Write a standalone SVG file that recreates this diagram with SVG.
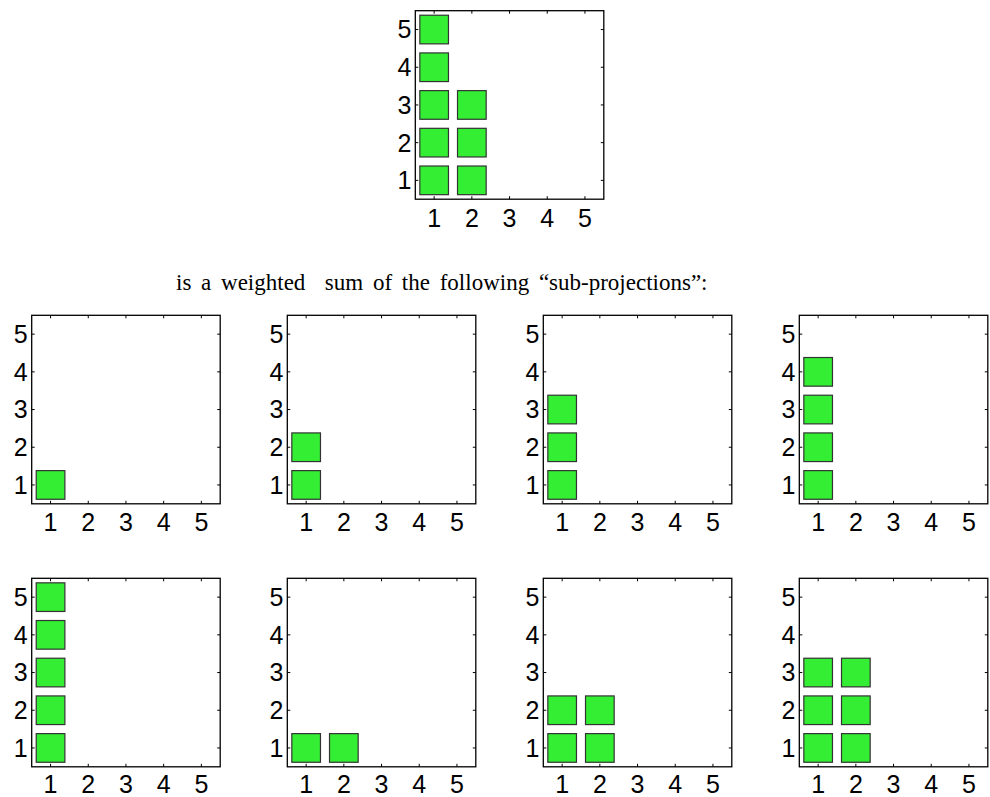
<svg xmlns="http://www.w3.org/2000/svg" xmlns:xlink="http://www.w3.org/1999/xlink" width="990" height="797" viewBox="0 0 990 797">
<style>
.tl{font-family:"Liberation Sans",Arial,sans-serif;font-size:25px;fill:#000}
.ym{text-anchor:end}
.xm{text-anchor:middle}
.sq{fill:#33EE33;stroke:#333;stroke-width:1.2}
.fr{fill:none;stroke:#000;stroke-width:1.3}
.tk{fill:none;stroke:#000;stroke-width:1}
.cap{font-family:"Liberation Serif","Times New Roman",serif;font-size:23px;word-spacing:4px;fill:#000}
</style>
<defs>
<rect id="sq" class="sq" width="28.65" height="28.65"/>
<g id="frame">
<rect class="fr" x="0" y="0" width="188.5" height="188.5"/>
<path class="tk" d="M18.85,0v3M56.55,0v3M94.25,0v3M131.95,0v3M169.65,0v3M18.85,188.5v-3M56.55,188.5v-3M94.25,188.5v-3M131.95,188.5v-3M169.65,188.5v-3M0,18.85h3M0,56.55h3M0,94.25h3M0,131.95h3M0,169.65h3M188.5,18.85h-3M188.5,56.55h-3M188.5,94.25h-3M188.5,131.95h-3M188.5,169.65h-3"/>
</g>
</defs>
<rect width="990" height="797" fill="#fff"/>

<g id="plot-main" transform="translate(415.3,10.7)">
<use href="#frame"/>
<use href="#sq" x="4.52" y="4.52"/><use href="#sq" x="4.52" y="42.22"/><use href="#sq" x="4.52" y="79.92"/><use href="#sq" x="4.52" y="117.62"/><use href="#sq" x="4.52" y="155.32"/>
<use href="#sq" x="42.22" y="79.92"/><use href="#sq" x="42.22" y="117.62"/><use href="#sq" x="42.22" y="155.32"/>
<text class="tl xm" x="18.85 56.55 94.25 131.95 169.65" y="216">12345</text>
<text class="tl ym" x="-4 -4 -4 -4 -4" y="27.8 65.5 103.2 140.9 178.6">54321</text>
</g>

<g id="caption">
<text class="cap" x="176" y="290" xml:space="preserve">is a weighted  sum of the following “sub-projections”:</text>
</g>

<g id="plot-1" transform="translate(31.7,315.3)">
<use href="#frame"/>
<use href="#sq" x="4.52" y="155.32"/>
<text class="tl xm" x="18.85 56.55 94.25 131.95 169.65" y="216">12345</text>
<text class="tl ym" x="-4 -4 -4 -4 -4" y="27.8 65.5 103.2 140.9 178.6">54321</text>
</g>
<g id="plot-2" transform="translate(287.3,315.3)">
<use href="#frame"/>
<use href="#sq" x="4.52" y="117.62"/><use href="#sq" x="4.52" y="155.32"/>
<text class="tl xm" x="18.85 56.55 94.25 131.95 169.65" y="216">12345</text>
<text class="tl ym" x="-4 -4 -4 -4 -4" y="27.8 65.5 103.2 140.9 178.6">54321</text>
</g>
<g id="plot-3" transform="translate(543.3,315.3)">
<use href="#frame"/>
<use href="#sq" x="4.52" y="79.92"/><use href="#sq" x="4.52" y="117.62"/><use href="#sq" x="4.52" y="155.32"/>
<text class="tl xm" x="18.85 56.55 94.25 131.95 169.65" y="216">12345</text>
<text class="tl ym" x="-4 -4 -4 -4 -4" y="27.8 65.5 103.2 140.9 178.6">54321</text>
</g>
<g id="plot-4" transform="translate(799.3,315.3)">
<use href="#frame"/>
<use href="#sq" x="4.52" y="42.22"/><use href="#sq" x="4.52" y="79.92"/><use href="#sq" x="4.52" y="117.62"/><use href="#sq" x="4.52" y="155.32"/>
<text class="tl xm" x="18.85 56.55 94.25 131.95 169.65" y="216">12345</text>
<text class="tl ym" x="-4 -4 -4 -4 -4" y="27.8 65.5 103.2 140.9 178.6">54321</text>
</g>

<g id="plot-5" transform="translate(31.7,578.3)">
<use href="#frame"/>
<use href="#sq" x="4.52" y="4.52"/><use href="#sq" x="4.52" y="42.22"/><use href="#sq" x="4.52" y="79.92"/><use href="#sq" x="4.52" y="117.62"/><use href="#sq" x="4.52" y="155.32"/>
<text class="tl xm" x="18.85 56.55 94.25 131.95 169.65" y="214.5">12345</text>
<text class="tl ym" x="-4 -4 -4 -4 -4" y="27.8 65.5 103.2 140.9 178.6">54321</text>
</g>
<g id="plot-6" transform="translate(287.3,578.3)">
<use href="#frame"/>
<use href="#sq" x="4.52" y="155.32"/><use href="#sq" x="42.22" y="155.32"/>
<text class="tl xm" x="18.85 56.55 94.25 131.95 169.65" y="214.5">12345</text>
<text class="tl ym" x="-4 -4 -4 -4 -4" y="27.8 65.5 103.2 140.9 178.6">54321</text>
</g>
<g id="plot-7" transform="translate(543.3,578.3)">
<use href="#frame"/>
<use href="#sq" x="4.52" y="117.62"/><use href="#sq" x="4.52" y="155.32"/>
<use href="#sq" x="42.22" y="117.62"/><use href="#sq" x="42.22" y="155.32"/>
<text class="tl xm" x="18.85 56.55 94.25 131.95 169.65" y="214.5">12345</text>
<text class="tl ym" x="-4 -4 -4 -4 -4" y="27.8 65.5 103.2 140.9 178.6">54321</text>
</g>
<g id="plot-8" transform="translate(799.3,578.3)">
<use href="#frame"/>
<use href="#sq" x="4.52" y="79.92"/><use href="#sq" x="4.52" y="117.62"/><use href="#sq" x="4.52" y="155.32"/>
<use href="#sq" x="42.22" y="79.92"/><use href="#sq" x="42.22" y="117.62"/><use href="#sq" x="42.22" y="155.32"/>
<text class="tl xm" x="18.85 56.55 94.25 131.95 169.65" y="214.5">12345</text>
<text class="tl ym" x="-4 -4 -4 -4 -4" y="27.8 65.5 103.2 140.9 178.6">54321</text>
</g>
</svg>
